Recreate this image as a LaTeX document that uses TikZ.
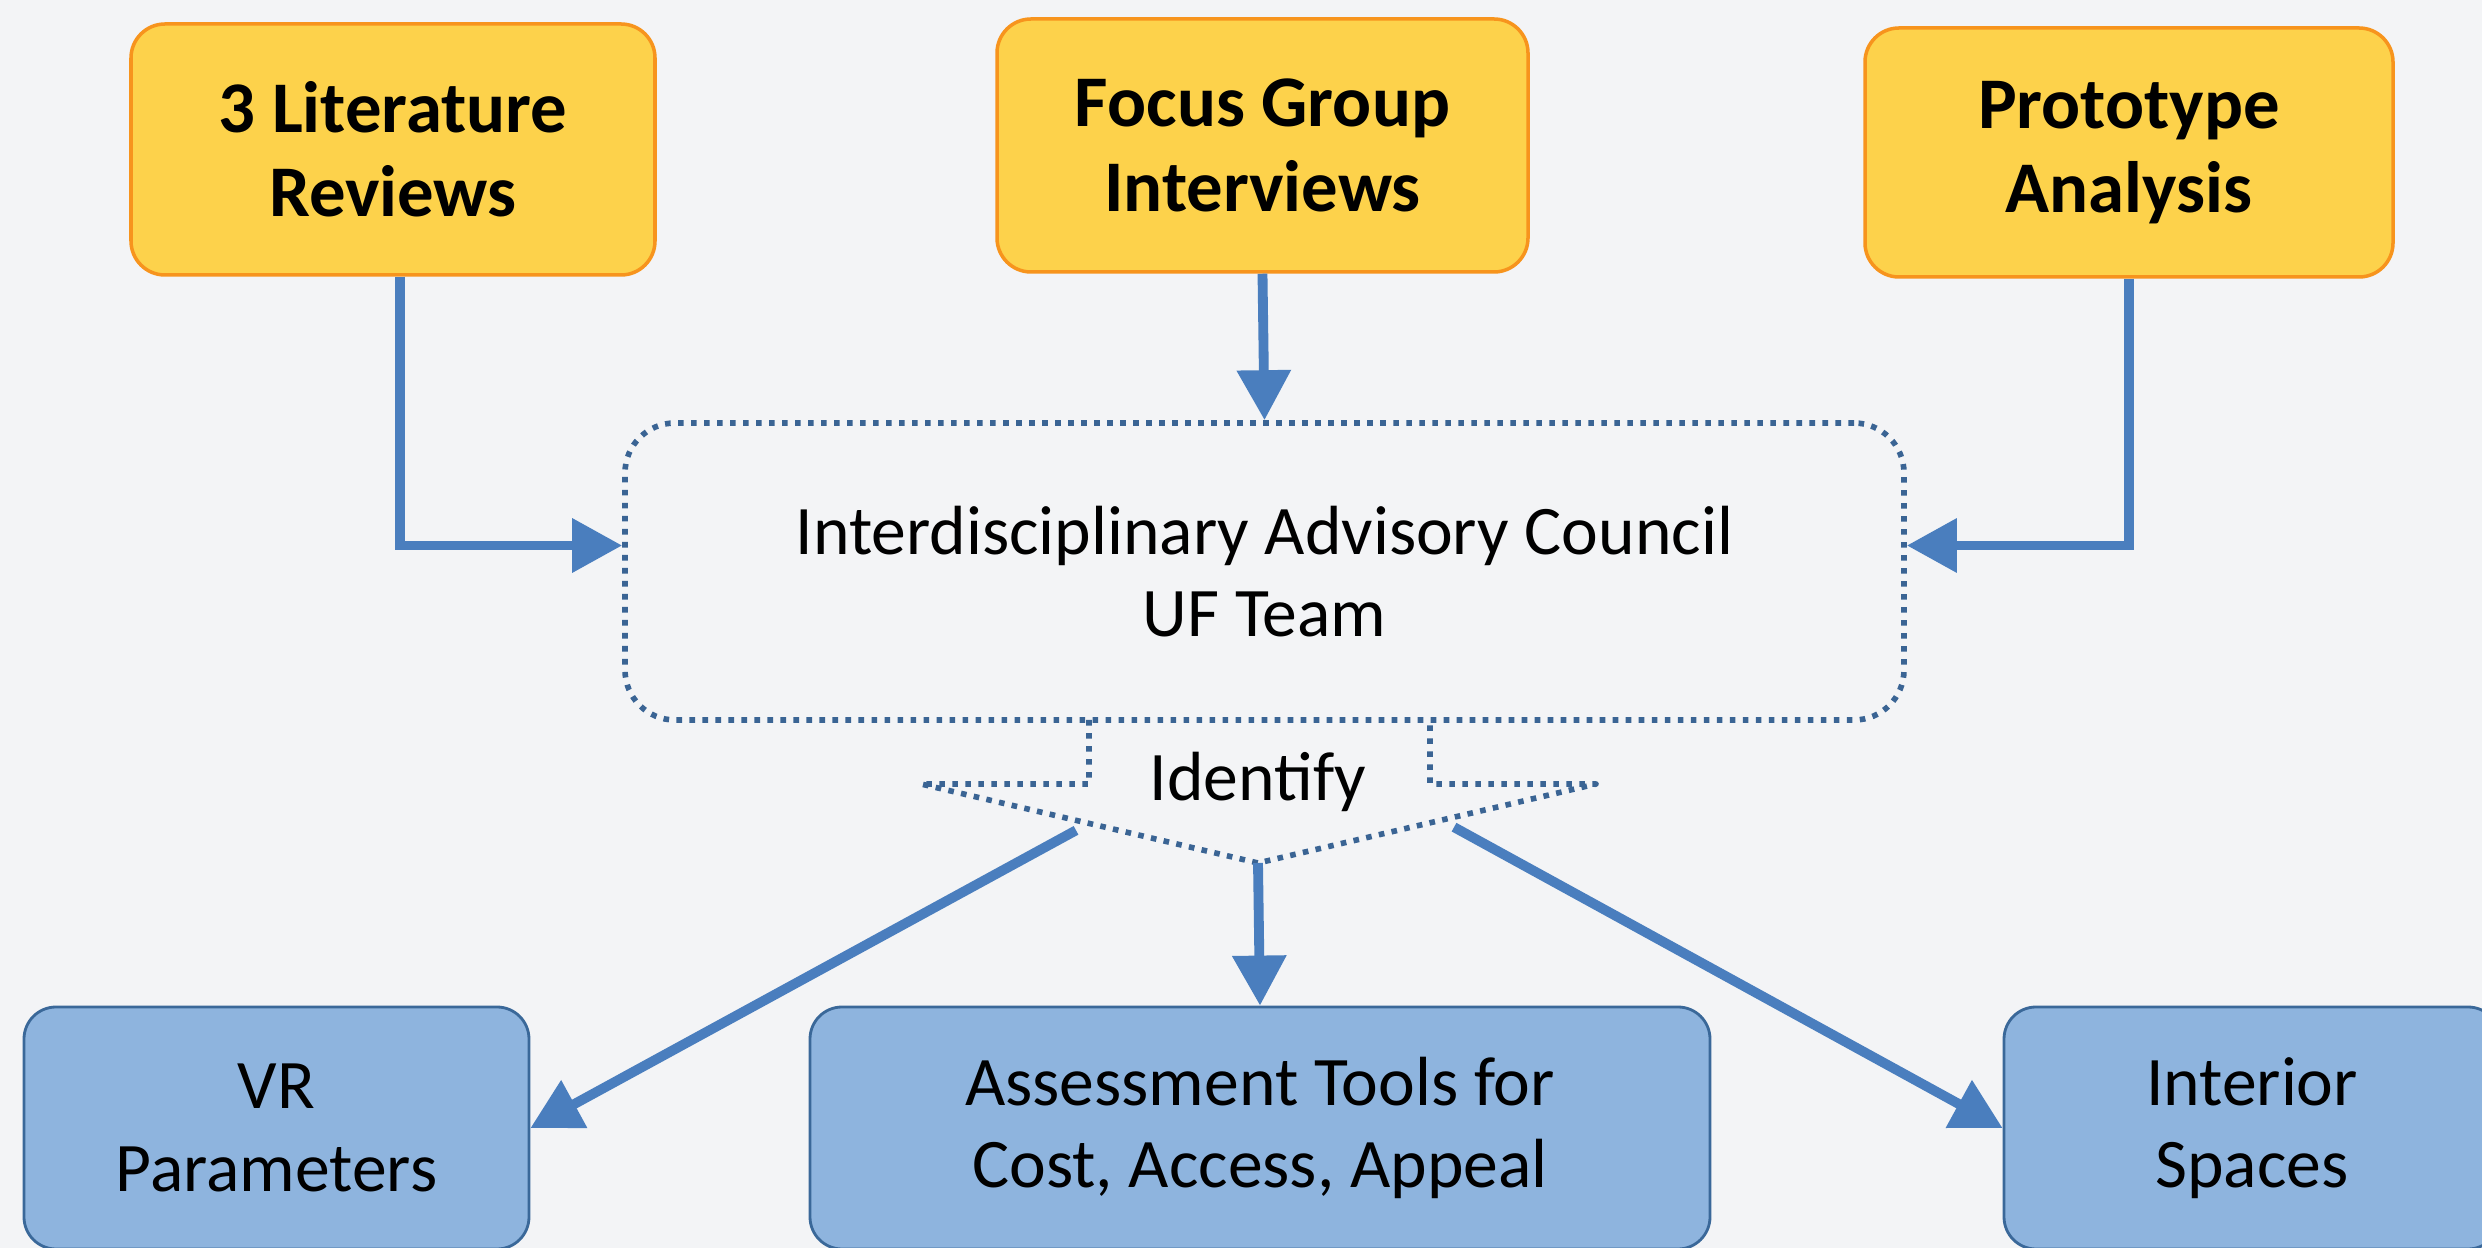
\documentclass[tikz,border=0pt]{standalone}
\usepackage{fontspec}
\setmainfont{Carlito}
\usepackage{tikz}
\usetikzlibrary{arrows.meta,calc}
\definecolor{bgcol}{HTML}{F3F4F6}
\definecolor{srcfill}{HTML}{FDD24B}
\definecolor{srcline}{HTML}{F7941D}
\definecolor{outfill}{HTML}{8EB4DE}
\definecolor{outline}{HTML}{3A6899}
\definecolor{flowcol}{HTML}{4A7EBE}
\definecolor{dotcol}{HTML}{3A6494}

\begin{document}
\begin{tikzpicture}[x=1cm, y=1cm,
  source/.style={draw=srcline, line width=1pt, fill=srcfill, rounded corners=0.34cm, align=center, font=\fontsize{20.7}{24}\selectfont\bfseries},
  result/.style={draw=outline, line width=0.8pt, fill=outfill, rounded corners=0.32cm, align=center, font=\fontsize{19.8}{23.4}\selectfont},
  flow/.style={draw=flowcol, line width=2.8pt, -{Triangle[length=0.5cm,width=0.52cm]}},
  dots/.style={draw=dotcol, line width=1.6pt, line join=round, dash pattern=on 1.6pt off 2.1pt}]
\fill[bgcol] (0,0) rectangle (24.82,-12.48);
\useasboundingbox (0,0) rectangle (24.82,-12.48);
\node[source, minimum width=5.24cm, minimum height=2.51cm] (lit) at (3.93,-1.495) {3 Literature\\Reviews};
\node[source, minimum width=5.31cm, minimum height=2.53cm] (focus) at (12.625,-1.455) {Focus Group\\Interviews};
\node[source, minimum width=5.28cm, minimum height=2.49cm] (proto) at (21.29,-1.525) {Prototype\\Analysis};
\node[dots, rounded corners=0.5cm, minimum width=12.79cm, minimum height=2.97cm, align=center, font=\fontsize{19.8}{23.4}\selectfont] (council) at (12.645,-5.715) {Interdisciplinary Advisory Council\\UF Team};
\node[result, minimum width=5.05cm, minimum height=2.42cm] (vr) at (2.765,-11.28) {VR\\Parameters};
\node[result, minimum width=9.0cm, minimum height=2.42cm] (tools) at (12.6,-11.28) {Assessment Tools for\\Cost, Access, Appeal};
\node[result, minimum width=4.96cm, minimum height=2.42cm] (interior) at (22.52,-11.28) {Interior\\Spaces};
% identify arrow
\coordinate (nl) at (10.89,-7.20);
\coordinate (nr) at (14.30,-7.20);
\coordinate (wl) at (9.21,-7.84);
\coordinate (wr) at (15.96,-7.84);
\coordinate (tip) at (12.58,-8.63);
\draw[dots] (nl) -- (nl |- wl) -- (wl) -- (tip) -- (wr) -- (nr |- wr) -- (nr);
\node[font=\fontsize{19.8}{23.4}\selectfont] (ident) at (12.58,-7.82) {Identify};
\draw[flow] ([xshift=0.07cm]lit.south) |- ([yshift=2.6mm]council.west);
\draw[flow] (focus.south) -- (council.north);
\draw[flow] (proto.south) |- ([yshift=2.6mm]council.east);
\draw[flow] ($(wl)!0.46!(tip)+(0,-0.1)$) -- (vr.east);
\draw[flow] (tip) -- (tools.north);
\draw[flow] ($(wr)!0.42!(tip)+(0,-0.1)$) -- (interior.west);
\end{tikzpicture}
\end{document}
